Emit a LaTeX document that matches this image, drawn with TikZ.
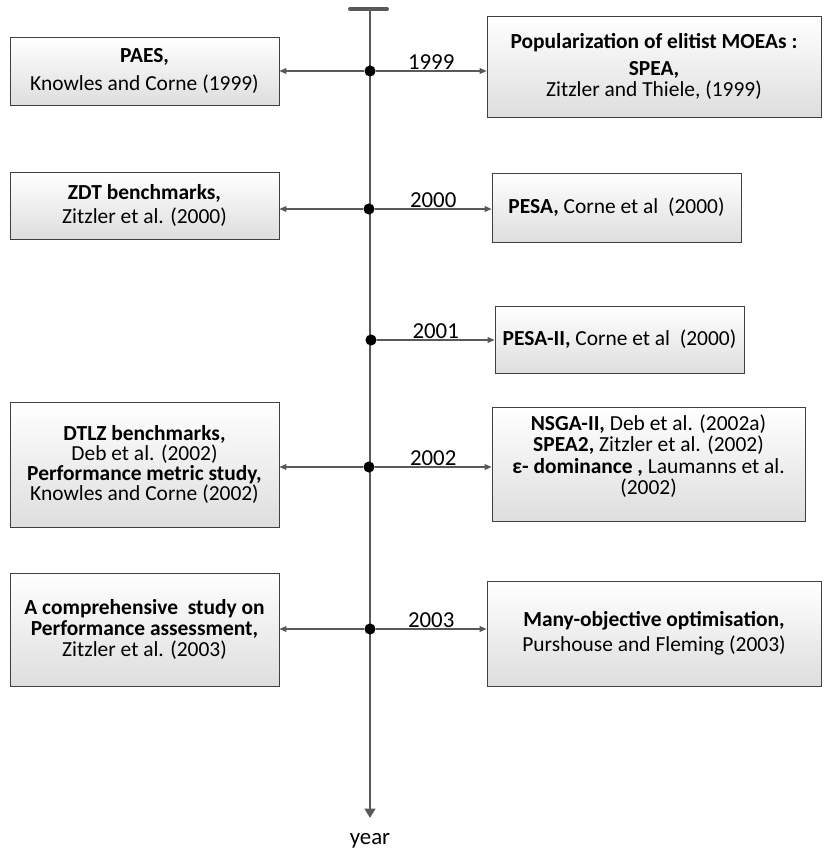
\documentclass[tikz,border=0pt]{standalone}
\usepackage{fontspec}
\setmainfont{Carlito}
\usetikzlibrary{arrows.meta, shadows}
\definecolor{linegray}{HTML}{595959}
\definecolor{boxline}{HTML}{404040}
\tikzstyle{event}=[rectangle, draw=boxline, line width=0.7pt, top color=white, bottom color=black!13, drop shadow={shadow xshift=1.2pt, shadow yshift=-1.2pt, opacity=.25}, align=center, inner sep=2pt, font=\fontsize{18.3}{18}\selectfont]
\tikzstyle{yeardot}=[circle, fill=black, inner sep=0pt, minimum size=9.5pt]
\tikzstyle{link}=[draw=linegray, line width=0.9pt, -{Triangle[length=6pt,width=5pt]}]
\tikzstyle{yearlabel}=[anchor=base, yshift=1.2pt, inner sep=0pt, font=\fontsize{19.5}{20}\selectfont]

\begin{document}
\begin{tikzpicture}[x=0.03cm, y=-0.03cm]
    \useasboundingbox (0,0) rectangle (823,853);

    % left boxes
    \node[event, minimum width=8.07cm, minimum height=2.04cm] (paes) at (144.5,71)
        {\textbf{PAES,}\\[6pt] Knowles and Corne (1999)};
    \node[event, minimum width=8.07cm, minimum height=2.01cm] (zdt) at (144.5,205.5)
        {\textbf{ZDT benchmarks,}\\[3pt] Zitzler et al. (2000)};
    \node[event, minimum width=8.07cm, minimum height=3.75cm] (dtlz) at (144.5,464.5)
        {\textbf{DTLZ benchmarks,}\\[-1pt] Deb et al. (2002)\\[-1pt] \textbf{Performance metric study,}\\[-1pt] Knowles and Corne (2002)};
    \node[event, minimum width=8.07cm, minimum height=3.39cm] (assess) at (144.5,629.5)
        {\textbf{A comprehensive\ \ study on}\\ \textbf{Performance assessment,}\\ Zitzler et al. (2003)};

    % right boxes
    \node[event, minimum width=10.02cm, minimum height=3.03cm] (spea) at (654,66.5)
        {\textbf{Popularization of elitist MOEAs :}\\[5pt] \textbf{SPEA,}\\[0.5pt] Zitzler and Thiele, (1999)};
    \node[event, minimum width=7.47cm, minimum height=2.07cm] (pesa) at (616.5,207.5)
        {\textbf{PESA,} Corne et al\ \ (2000)};
    \node[event, minimum width=7.47cm, minimum height=2.01cm] (pesa2) at (619.5,339.5)
        {\textbf{PESA-II,} Corne et al\ \ (2000)};
    \node[event, minimum width=9.39cm, minimum height=3.42cm] (nsga) at (648.5,464)
        {\textbf{NSGA-II,} Deb et al. (2002a)\\ \textbf{SPEA2,} Zitzler et al. (2002)\\ \textbf{ε- dominance ,} Laumanns et al.\\ (2002)\\[-2pt]{}};
    \node[event, minimum width=10.02cm, minimum height=3.15cm] (many) at (654,633.5)
        {\textbf{Many-objective optimisation,}\\[3pt] Purshouse and Fleming (2003)};

    % time axis
    \coordinate (barl) at (350,9);
    \coordinate (barr) at (387,9);
    \coordinate (top) at (370,9);
    \coordinate (bot) at (370,818);
    \node[font=\fontsize{19.5}{20}\selectfont] (yearlbl) at (370,841) {year};
    \draw[linegray, line width=3.4pt, line cap=round] (barl) -- (barr);
    \draw[linegray, line width=2.4pt, -{Triangle[length=8pt,width=9pt]}] (top) -- (bot);

    % years
    \node[yeardot] (d1999) at (370,71) {}
        edge [link] node[yearlabel] {1999} (d1999 -| spea.west)
        edge [link] (paes);
    \node[yeardot] (d2000) at (369,209) {}
        edge [link] node[yearlabel] {2000} (d2000 -| pesa.west)
        edge [link] (d2000 -| zdt.east);
    \node[yeardot] (d2001) at (371,340) {}
        edge [link] node[yearlabel] {2001} (d2001 -| pesa2.west);
    \node[yeardot] (d2002) at (369,467) {}
        edge [link] node[yearlabel] {2002} (d2002 -| nsga.west)
        edge [link] (d2002 -| dtlz.east);
    \node[yeardot] (d2003) at (370,629) {}
        edge [link] node[yearlabel] {2003} (d2003 -| many.west)
        edge [link] (d2003 -| assess.east);
\end{tikzpicture}
\end{document}
